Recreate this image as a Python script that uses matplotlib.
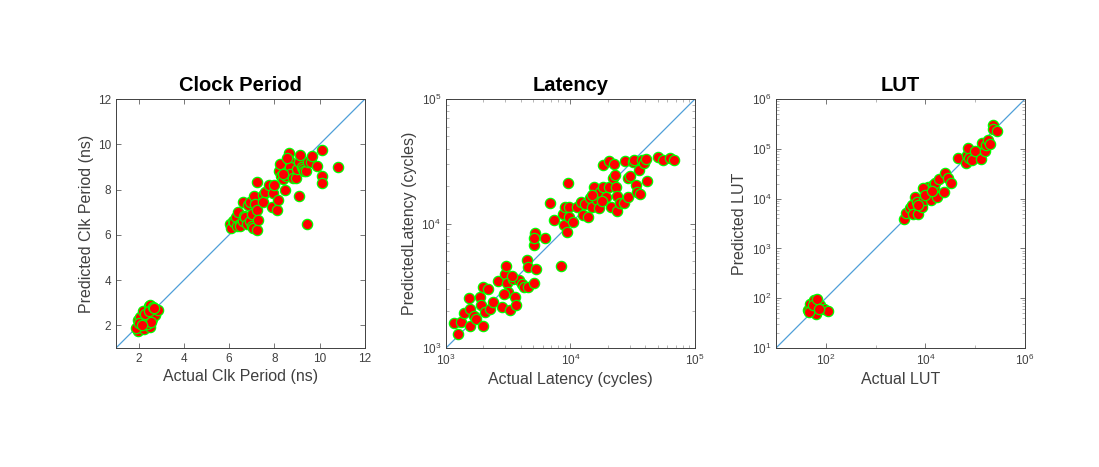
import matplotlib
matplotlib.use("Agg")
import matplotlib.pyplot as plt
from matplotlib.ticker import LogLocator, LogFormatterMathtext, NullFormatter

plt.rcParams['font.family'] = ['Liberation Sans', 'DejaVu Sans']
plt.rcParams['mathtext.fontset'] = 'custom'
plt.rcParams['mathtext.rm'] = 'Liberation Sans'

# Clock period (ns)
clk_actual = [1.96, 1.96, 2.07, 2.19, 2.22, 2.44, 2.49, 2.59, 2.74, 2.84, 2.51, 2.37,
              1.9, 2.3, 2.45, 2.65, 2.0, 2.55, 2.7, 2.15,
              6.05, 6.1, 6.15, 6.2, 6.3, 6.35, 6.4, 6.5, 6.5, 6.6, 6.62, 6.65, 6.7, 6.8,
              6.85, 6.9, 6.92, 7.0, 7.0, 7.06, 7.1, 7.14, 7.21, 7.24, 7.25, 7.29, 7.48,
              7.51, 7.58, 7.77, 7.88, 7.95, 8.0, 8.12, 8.17, 8.2, 8.24, 8.3, 8.39, 8.46,
              8.5, 8.6, 8.65, 8.65, 8.7, 8.7, 8.8, 8.95, 9.0, 9.08, 9.1, 9.15, 9.2, 9.25,
              9.3, 9.39, 9.42, 9.5, 9.6, 9.68, 9.9, 10.08, 10.08, 10.11, 10.82, 8.4, 8.55]
clk_pred = [2.25, 1.75, 2.37, 2.63, 1.85, 2.84, 1.93, 2.3, 2.44, 2.69, 2.89, 2.07,
            1.9, 2.5, 2.65, 2.8, 2.1, 2.15, 2.75, 2.0,
            6.5, 6.3, 6.6, 6.55, 6.8, 6.4, 7.0, 6.5, 6.4, 6.6, 7.43, 6.83, 6.8, 6.5,
            7.3, 6.6, 7.46, 6.9, 6.4, 6.28, 7.7, 7.38, 8.35, 6.23, 7.1, 6.65, 7.76,
            7.43, 7.91, 8.2, 7.25, 7.83, 8.2, 7.1, 7.52, 8.8, 9.13, 8.6, 8.45, 7.98,
            8.6, 8.8, 9.63, 9.3, 9.0, 8.7, 8.5, 8.49, 8.9, 7.7, 9.2, 9.52, 9.0, 8.9,
            8.8, 8.8, 6.46, 9.2, 9.23, 9.48, 9.05, 8.6, 8.3, 9.75, 9.01, 8.7, 9.4]

# Latency (cycles)
lat_actual = [1167, 1250, 1320, 1400, 1540, 1570, 1550, 1670, 1750, 1880, 1910, 1980,
              1980, 2070, 2170, 2270, 2400, 2640, 2810, 2990, 3050, 3080, 3170, 3280,
              3450, 3600, 3660, 3830, 4070, 4200, 4460, 4600, 4520, 5110, 5270, 5050,
              5210, 5110, 6270, 6870, 7310, 8360, 8630, 8800, 9340, 9530, 9060, 9640,
              9770, 10570, 11230, 12100, 12710, 13100, 13800, 14400, 14800, 15500, 16300,
              16800, 17300, 18200, 18400, 19300, 20200, 20500, 21200, 21900, 22400, 22800,
              23100, 23600, 23600, 25000, 27400, 28700, 27100, 29200, 30100, 31600, 32600,
              33600, 34000, 35700, 37300, 39000, 40100, 41000, 36200, 50800, 55700, 63100,
              67700, 2900, 3400, 15000, 17800]
lat_pred = [1600, 1300, 1620, 1900, 2520, 2070, 1510, 1800, 1720, 2570, 2200, 1500,
            3090, 1950, 2960, 2070, 2340, 3440, 2130, 3950, 4570, 3330, 2820, 2010,
            3600, 2570, 2200, 3500, 3290, 3090, 5070, 4480, 3090, 3330, 4350, 6700,
            8320, 7700, 7590, 14500, 10640, 4570, 11900, 9700, 8570, 21000, 13600, 13600,
            11320, 10190, 13600, 14930, 11670, 14460, 11320, 15900, 13600, 19700, 15400,
            13200, 18000, 19700, 29400, 16400, 19700, 31700, 13600, 23000, 30000, 24500,
            19700, 16600, 12600, 14500, 31900, 23000, 14500, 16400, 24000, 31300, 32300,
            20300, 18000, 26800, 32300, 30700, 32700, 22000, 17400, 34000, 32300, 33700,
            32300, 2700, 3800, 17000, 15200]

# LUT
lut_actual = [43, 49, 52, 57, 61, 65, 68, 75, 90, 109, 47, 55, 66, 72,
              3630, 4110, 4790, 5330, 5760, 6310, 6710, 7260, 8480, 9440, 10670, 11500,
              12400, 12800, 14100, 15000, 15700, 16900, 19100, 23800, 24900, 29000, 32800,
              9100, 9900, 7000, 13500,
              45700, 65600, 69700, 73100, 76600, 87900, 99400, 131000, 139000, 158000,
              165000, 184000, 199000, 225000, 232000, 270000]
lut_pred = [57, 78, 62, 91, 67, 49, 84, 72, 62, 55, 53, 72, 97, 62,
            3860, 5190, 6530, 7390, 4870, 10860, 8620, 5020, 6840, 9300, 16000, 17300,
            12670, 9330, 18630, 16000, 20800, 10870, 24300, 13700, 32000, 25400, 20800,
            16000, 11600, 7500, 14000,
            66100, 50800, 74800, 101900, 64100, 59300, 90000, 62200, 128000, 91400,
            119000, 150000, 124000, 300000, 249000, 231000]

clk_lim = [1, 12]
lat_lim = [1e3, 1e5]
lut_lim = [1e1, 1e6]

gray = '#404040'
fig = plt.figure(figsize=(10.99, 4.67), dpi=100)
lefts = [0.1055, 0.4058, 0.7061]
axes = [fig.add_axes([l, 0.2548, 0.2266, 0.5332]) for l in lefts]

panels = [
    (clk_actual, clk_pred, clk_lim, 'Clock Period', 'Actual Clk Period (ns)', 'Predicted Clk Period (ns)', False),
    (lat_actual, lat_pred, lat_lim, 'Latency', 'Actual Latency (cycles)', 'PredictedLatency (cycles)', True),
    (lut_actual, lut_pred, lut_lim, 'LUT', 'Actual LUT', 'Predicted LUT', True),
]

for ax, (xa, yp, lim, title, xl, yl, logscale) in zip(axes, panels):
    ax.plot(lim, lim, color='#4F9FD8', lw=0.9, zorder=1)
    ax.scatter(xa, yp, s=55, facecolor='#FF0000', edgecolor='#00FF00', linewidths=0.9, zorder=2)
    if logscale:
        ax.set_xscale('log')
        ax.set_yscale('log')
    ax.set_xlim(lim)
    ax.set_ylim(lim)
    ax.set_title(title, fontsize=14.5, fontweight='bold', pad=6)
    ax.set_xlabel(xl, fontsize=11.5, color=gray, labelpad=3)
    ax.set_ylabel(yl, fontsize=11.5, color=gray, labelpad=3)
    ax.tick_params(which='both', direction='in', top=True, right=True,
                   labelsize=8.5, labelcolor=gray, color=gray, width=0.5)
    ax.tick_params(which='major', length=3.5)
    ax.tick_params(which='minor', length=2, color='#999999')
    for sp in ax.spines.values():
        sp.set_linewidth(0.7)
        sp.set_color(gray)

axes[0].set_xticks([2, 4, 6, 8, 10, 12])
axes[0].set_yticks([2, 4, 6, 8, 10, 12])

for ax in axes[1:]:
    ax.yaxis.set_major_locator(LogLocator(base=10, numticks=10))
    ax.yaxis.set_major_formatter(LogFormatterMathtext())
    ax.yaxis.set_minor_locator(LogLocator(base=10, subs=range(2, 10), numticks=20))
    ax.yaxis.set_minor_formatter(NullFormatter())
    ax.xaxis.set_minor_locator(LogLocator(base=10, subs=range(2, 10), numticks=20))
    ax.xaxis.set_minor_formatter(NullFormatter())

axes[1].set_xticks([1e3, 1e4, 1e5])
axes[2].set_xticks([1e2, 1e4, 1e6])
axes[2].xaxis.set_minor_locator(LogLocator(base=10, subs=[1.0], numticks=20))
axes[2].xaxis.set_minor_formatter(NullFormatter())

fig.savefig('out.png', dpi=100)
